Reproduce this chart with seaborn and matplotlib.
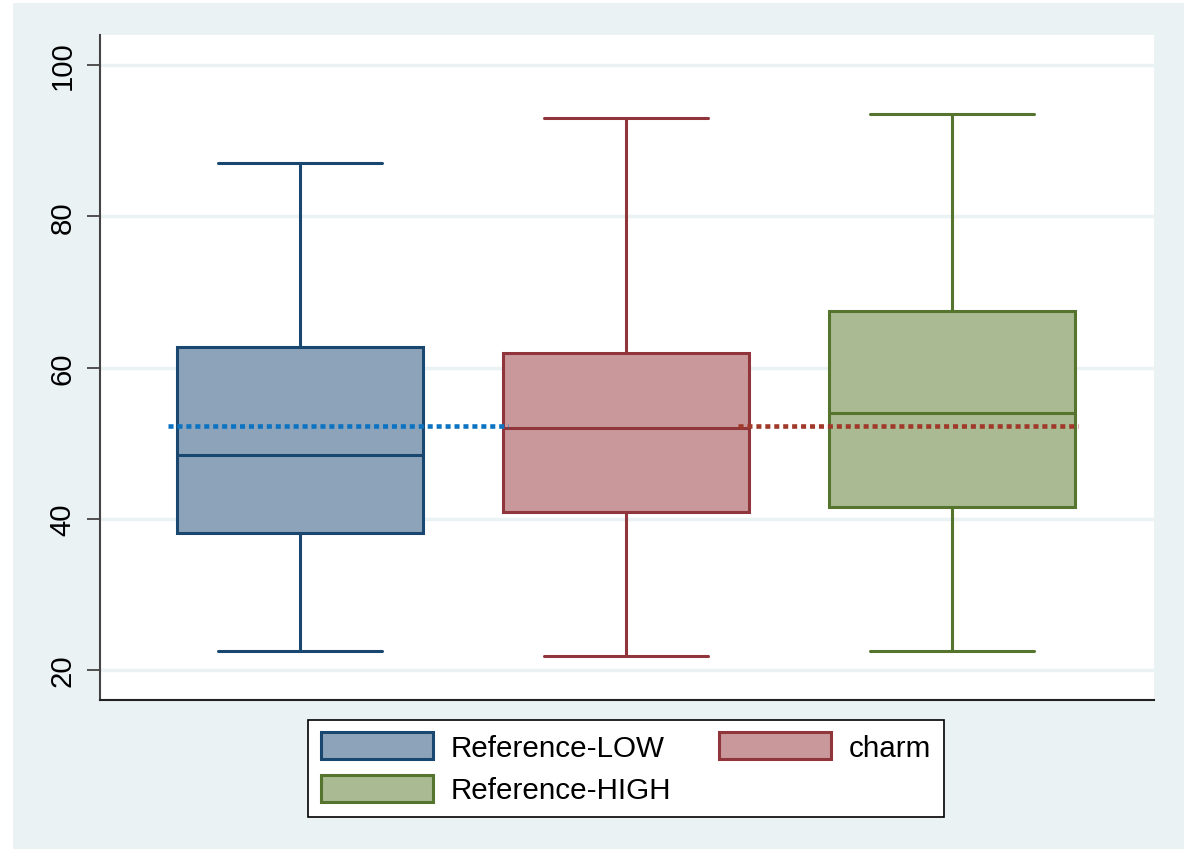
import numpy as np
import pandas as pd
import matplotlib
matplotlib.use("Agg")
import matplotlib.pyplot as plt
from matplotlib.patches import Patch, Rectangle
import seaborn as sns

# Groups and their five-number summaries (min, Q1, median, Q3, max)
groups = ["Reference-LOW", "charm", "Reference-HIGH"]
low_summary = [22.5, 38.1, 48.4, 62.7, 87.0]
charm_summary = [21.9, 40.9, 52.0, 61.9, 93.0]
high_summary = [22.5, 41.55, 54.0, 67.5, 93.5]

# Horizontal reference level and the stretch of categories each one covers
ref_level = 52.25
ref_spans = [(-0.405, 0.638), (1.344, 2.387)]

yticks = [20, 40, 60, 80, 100]

fills = ["#8DA3BA", "#C8989B", "#AABA92"]
edges = ["#1A476F", "#90353B", "#55752F"]
ref_colors = ["#0B73C2", "#A0392A"]
bg = "#EAF2F3"

df = pd.DataFrame({
    "group": np.repeat(groups, 5),
    "value": low_summary + charm_summary + high_summary,
})

sns.set_theme(style="white")
plt.rcParams["font.family"] = ["Liberation Sans", "DejaVu Sans"]
plt.rcParams["text.color"] = "black"
plt.rcParams["ytick.labelcolor"] = "black"

fig = plt.figure(figsize=(11.88, 8.54), dpi=100, facecolor="white")
fig.patches.append(Rectangle((13 / 1188, 4 / 854), 1171 / 1188, 846 / 854,
                             transform=fig.transFigure, facecolor=bg,
                             edgecolor="none", zorder=-10))
ax = fig.add_axes([100 / 1188, 153 / 854, 1054 / 1188, 665 / 854])
ax.set_facecolor("white")

box_w = 0.755
cap_w = 0.503
for i, g in enumerate(groups):
    n_before = len(ax.lines)
    sns.boxplot(data=df[df["group"] == g], x="group", y="value", order=groups,
                color=fills[i], linecolor=edges[i], saturation=1,
                width=box_w, linewidth=2.2, whis=(0, 100), showfliers=False,
                ax=ax, zorder=3)
    # widen the whisker caps
    for ln in ax.lines[n_before:]:
        xd = np.asarray(ln.get_xdata(), dtype=float)
        if len(xd) == 2 and abs((xd[1] - xd[0]) - 0.5 * box_w) < 1e-6:
            c = xd.mean()
            ln.set_xdata([c - cap_w / 2, c + cap_w / 2])

for (x0, x1), col in zip(ref_spans, ref_colors):
    ax.hlines(ref_level, x0, x1, colors=col, linewidth=3.3,
              linestyles=(0, (1.1, 0.85)), zorder=6)

ax.set_xlim(-0.613, 2.62)
ax.set_ylim(16.03, 103.97)
ax.set_yticks(yticks)
ax.set_yticklabels([str(t) for t in yticks], rotation=90, va="center",
                   fontsize=21.2, color="black")
ax.set_xticks([])
ax.set_xlabel("")
ax.set_ylabel("")
ax.yaxis.grid(True, color=bg, linewidth=2.5, zorder=0)
ax.set_axisbelow(True)
ax.tick_params(axis="y", direction="out", length=9.5, width=1.3,
               color="#444444", pad=7.5, left=True)
for side in ["top", "right"]:
    ax.spines[side].set_visible(False)
ax.spines["left"].set_color("#444444")
ax.spines["left"].set_linewidth(1.5)
ax.spines["bottom"].set_color("#222222")
ax.spines["bottom"].set_linewidth(1.5)

# legend filled column-wise: LOW / HIGH in the first column, charm in the second
order = [0, 2, 1]
handles = [Patch(facecolor=fills[k], edgecolor=edges[k], linewidth=2.2)
           for k in order]
labels = [groups[k] for k in order]
leg = fig.legend(handles, labels, loc="upper center",
                 bbox_to_anchor=(626 / 1188, 1 - 721 / 854), ncol=2,
                 fontsize=21.3, frameon=True, fancybox=False,
                 edgecolor="black", framealpha=1,
                 handlelength=3.8, handleheight=1.0, handletextpad=0.6,
                 columnspacing=1.6, labelspacing=0.45, borderpad=0.42,
                 borderaxespad=0)
leg.get_frame().set_linewidth(1.2)
leg.get_frame().set_facecolor("white")
for t in leg.get_texts():
    t.set_color("black")

fig.savefig("out.png", dpi=100, facecolor="white")
